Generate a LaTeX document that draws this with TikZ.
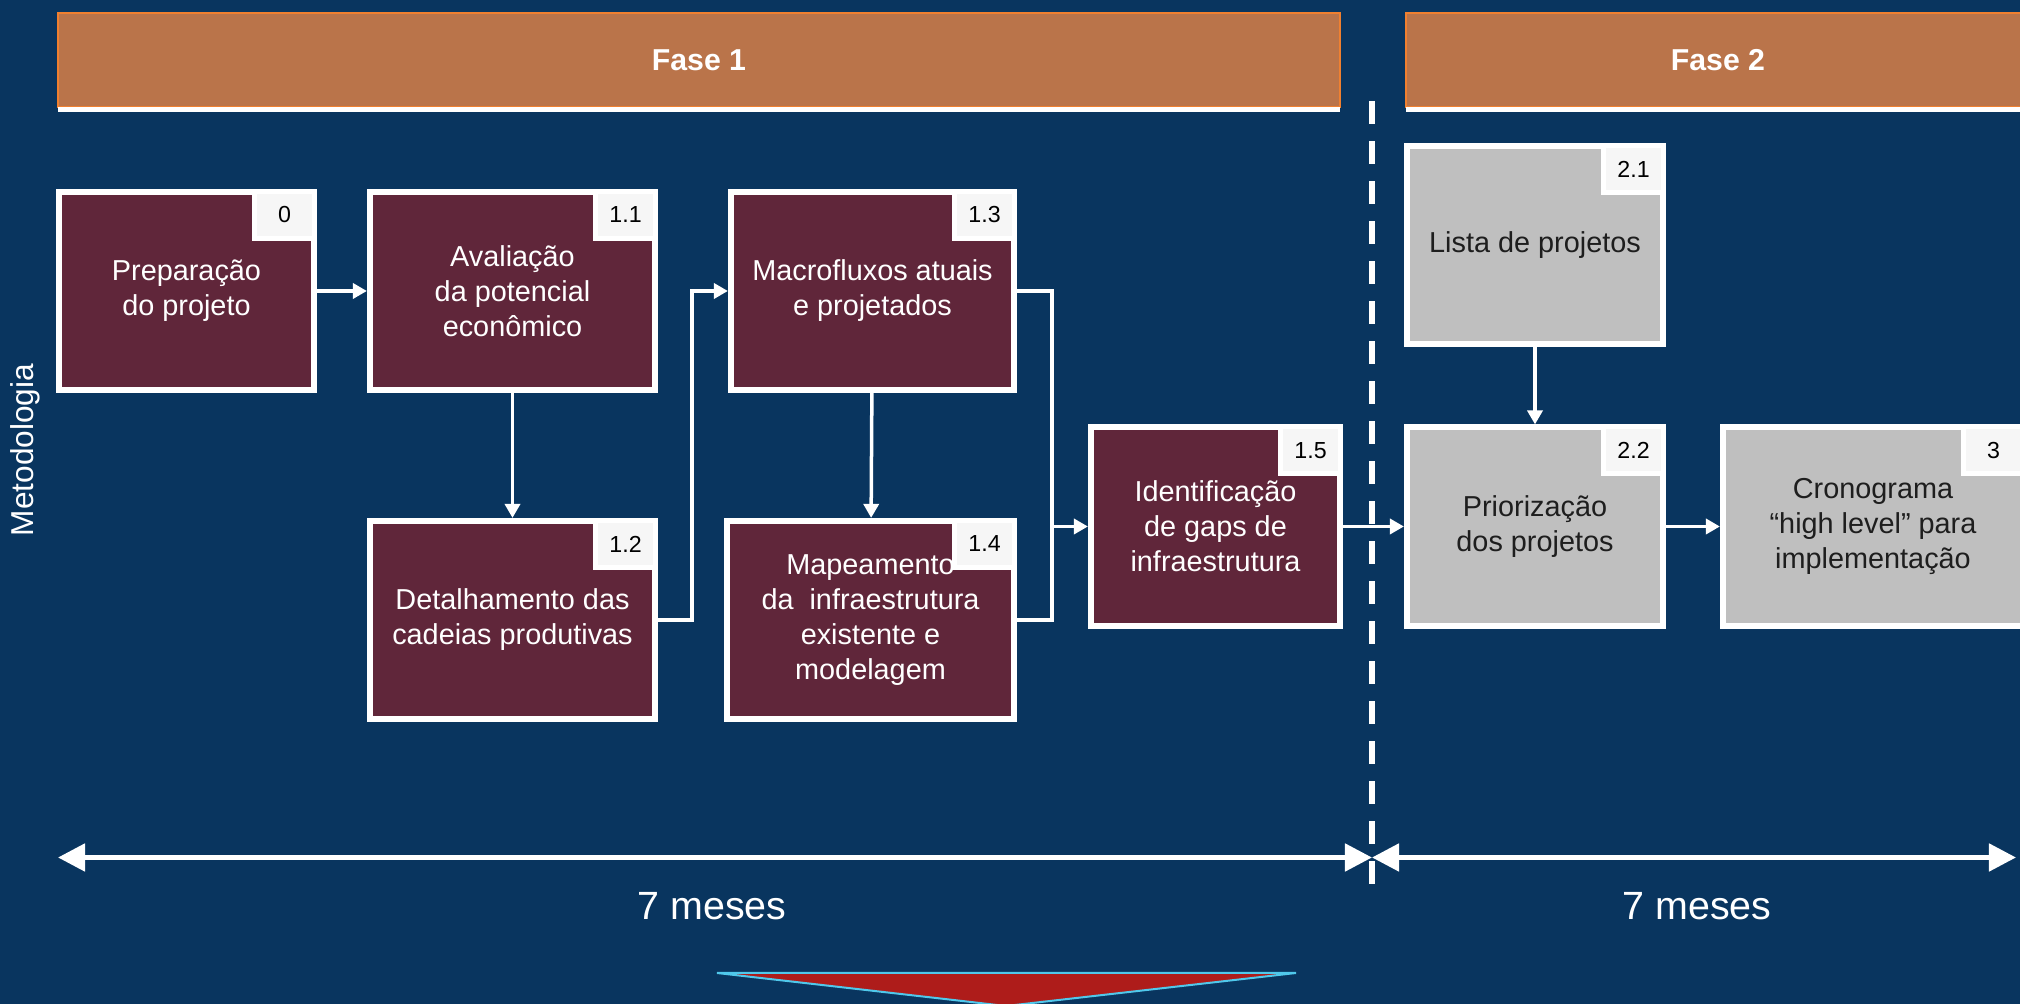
\documentclass[tikz,border=0pt]{standalone}
\usepackage{fontspec}
\setmainfont{Liberation Sans}
\usetikzlibrary{arrows.meta}
\definecolor{bgblue}{HTML}{09355F}
\definecolor{barfill}{HTML}{BA744A}
\definecolor{baredge}{HTML}{F08030}
\definecolor{stepred}{HTML}{60263A}
\definecolor{stepgray}{HTML}{BFBFBF}
\definecolor{nofill}{HTML}{F6F6F6}
\definecolor{darktext}{HTML}{1E1E1E}
\definecolor{redtri}{HTML}{AE1C1A}
\definecolor{cyanedge}{HTML}{50C8EB}
\tikzset{
  phase/.style={fill=barfill, draw=baredge, line width=0.02cm, outer sep=0pt,
    minimum height=0.94cm, text=white,
    font=\fontsize{8.6}{10}\selectfont\bfseries},
  task/.style={fill=stepred, draw=white, line width=0.06cm,
    minimum height=1.98cm, text=white, align=center,
    font=\fontsize{8.2}{9.96}\selectfont},
  later/.style={task, fill=stepgray, text=darktext},
  stepno/.style={fill=nofill, draw=white, line width=0.05cm,
    minimum width=0.6cm, minimum height=0.47cm, inner sep=0pt,
    anchor=north east, font=\fontsize{6.6}{8}\selectfont},
  flow/.style={draw=white, line width=0.035cm,
    -{Triangle[length=0.14cm,width=0.15cm]}},
  link/.style={draw=white, line width=0.035cm},
  span/.style={draw=white, line width=0.05cm,
    {Triangle[length=0.27cm,width=0.27cm]}-{Triangle[length=0.27cm,width=0.27cm]}},
  divider/.style={draw=white, line width=0.06cm, dash pattern=on 0.23cm off 0.17cm},
}
\begin{document}
\begin{tikzpicture}[x=0.01cm,y=-0.01cm]
\fill[bgblue] (0,0) rectangle (2020,1004);
\useasboundingbox (0,0) rectangle (2020,1004);
\clip (0,0) rectangle (2020,1004);
% fases
\node[phase, minimum width=12.82cm] (f1) at (699,60) {Fase 1};
\node[phase, minimum width=6.24cm] (f2) at (1718,60) {Fase 2};
\foreach \f in {f1,f2}
  \draw[white, line width=0.05cm]
    ([yshift=-0.025cm]\f.south west) -- ([yshift=-0.025cm]\f.south east);
\node[white, rotate=90, font=\fontsize{9}{11}\selectfont] (met) at (25,450) {Metodologia};
% etapas
\node[task, minimum width=2.55cm] (b0) at (186.5,291) {Preparação\\do projeto};
\node[task, minimum width=2.85cm] (b11) at (512.5,291) {Avaliação\\da potencial\\econômico};
\node[task, minimum width=2.85cm] (b12) at (512.5,620) {Detalhamento das\\cadeias produtivas};
\node[task, minimum width=2.83cm] (b13) at (872.5,291) {Macrofluxos atuais\\e projetados};
\node[task, minimum width=2.87cm] (b14) at (870.5,620)
  {Mapeamento\\da\ \ infraestrutura\\existente e\\modelagem};
\node[task, minimum width=2.49cm] (b15) at (1215.5,526.5)
  {Identificação\\de gaps de\\infraestrutura};
\node[later, minimum width=2.56cm] (b21) at (1535,245) {Lista de projetos};
\node[later, minimum width=2.56cm] (b22) at (1535,526.5) {Priorização\\dos projetos};
\node[later, minimum width=3.00cm] (b3) at (1873,526.5)
  {Cronograma\\“high level” para\\implementação};
\foreach \b/\n in {b0/0,b11/1.1,b12/1.2,b13/1.3,b14/1.4,b15/1.5,b21/2.1,b22/2.2,b3/3}
  \node[stepno] (n\b) at (\b.north east) {\n};
% fluxo
\draw[flow] (b0) -- (b11);
\draw[flow] (b11) -- (b12);
\draw[flow] (b12.east) -- ++(34,0) |- (b13.west);
\draw[flow] (b13) -- (b14);
\coordinate (join) at (1052,526.5);
\draw[link] (b13.east) -| (join);
\draw[link] (b14.east) -| (join);
\draw[flow] (join) -- (b15);
\draw[flow] (b15) -- (b22);
\draw[flow] (b21) -- (b22);
\draw[flow] (b22) -- (b3);
% prazos
\coordinate (dtop) at (1372,101);
\coordinate (dbot) at (1372,887);
\draw[divider] (dtop) -- (dbot);
\coordinate (s0) at (58,857.5);
\coordinate (s1) at (1372,857.5);
\coordinate (s2) at (2016,857.5);
\draw[span] (s0) -- (s1);
\draw[span] (s1) -- (s2);
\node[white, font=\fontsize{11.2}{13}\selectfont] (m1) at (712,906) {7 meses};
\node[white, font=\fontsize{11.2}{13}\selectfont] (m2) at (1697,906) {7 meses};
\filldraw[fill=redtri, draw=cyanedge, line width=0.02cm]
  (717,973) -- (1296,973) -- (1006,1006) -- cycle;
\end{tikzpicture}
\end{document}
